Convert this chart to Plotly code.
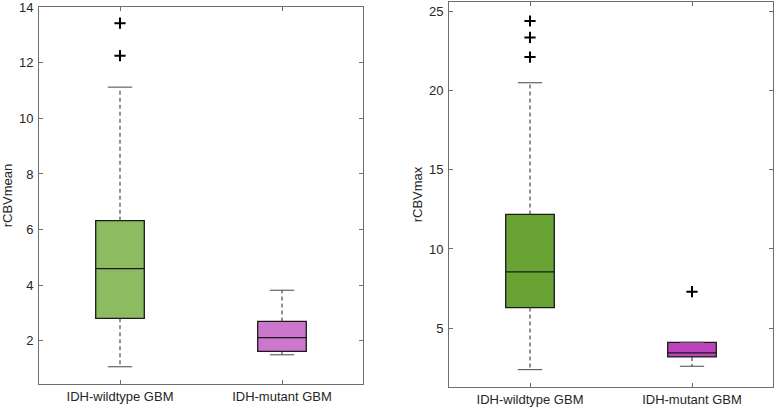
import plotly.graph_objects as go

groups = ["IDH-wildtype GBM", "IDH-mutant GBM"]
positions = [1, 2]

# rCBVmean panel
mean_q1 = [2.81, 1.62]
mean_med = [4.60, 2.12]
mean_q3 = [6.32, 2.70]
mean_lo = [1.07, 1.50]
mean_hi = [11.12, 3.82]
mean_out = [[13.42, 12.25], []]

# rCBVmax panel
max_q1 = [6.30, 3.18]
max_med = [8.55, 3.43]
max_q3 = [12.18, 4.10]
max_lo = [2.38, 2.59]
max_hi = [20.50, 4.10]
max_out = [[24.40, 23.36, 22.12], [7.30]]

mean_colors = ["#8DBB62", "#CC77CC"]
max_colors = ["#68A334", "#BB44BB"]

fig = go.Figure()

def add_panel(q1, med, q3, lo, hi, outs, colors, xa, ya):
    for i, p in enumerate(positions):
        fig.add_trace(go.Box(
            x=[p], q1=[q1[i]], median=[med[i]], q3=[q3[i]],
            lowerfence=[q1[i]], upperfence=[q3[i]],
            width=0.3, whiskerwidth=0, fillcolor=colors[i],
            line=dict(color="#1a1a1a", width=1.3),
            boxpoints=False, hoverinfo="skip",
            xaxis=xa, yaxis=ya, showlegend=False))
        # dashed whiskers
        for a, b in [(q3[i], hi[i]), (q1[i], lo[i])]:
            if abs(a - b) > 1e-9:
                fig.add_trace(go.Scatter(
                    x=[p, p], y=[a, b], mode="lines",
                    line=dict(color="#3a3a3a", width=1.1, dash="4px,3px"),
                    xaxis=xa, yaxis=ya, showlegend=False, hoverinfo="skip"))
        # caps
        for v in [hi[i], lo[i]]:
            fig.add_trace(go.Scatter(
                x=[p - 0.075, p + 0.075], y=[v, v], mode="lines",
                line=dict(color="#555555", width=1.1),
                xaxis=xa, yaxis=ya, showlegend=False, hoverinfo="skip"))
        if outs[i]:
            fig.add_trace(go.Scatter(
                x=[p] * len(outs[i]), y=outs[i], mode="markers",
                marker=dict(symbol="cross-thin", size=8,
                            line=dict(color="#000000", width=2)),
                xaxis=xa, yaxis=ya, showlegend=False, hoverinfo="skip"))

add_panel(mean_q1, mean_med, mean_q3, mean_lo, mean_hi, mean_out, mean_colors, "x", "y")
add_panel(max_q1, max_med, max_q3, max_lo, max_hi, max_out, max_colors, "x2", "y2")

font = dict(family="Liberation Sans, Arial, sans-serif", size=13, color="#262626")
axis_common = dict(showline=True, linecolor="#6e6e6e", linewidth=1, mirror="ticks",
                   ticks="inside", ticklen=4, tickcolor="#6e6e6e", automargin=False,
                   showgrid=False, zeroline=False, tickfont=font,
                   ticklabeloverflow="allow")

fig.update_layout(
    width=777, height=412,
    margin=dict(l=0, r=0, t=0, b=0),
    paper_bgcolor="white", plot_bgcolor="white",
    font=font,
    xaxis=dict(domain=[39/777, 363/777], range=[0.5, 2.5],
               tickvals=positions, ticktext=groups, ticklabelstandoff=0, **axis_common),
    yaxis=dict(domain=[1-384/412, 1-7/412], range=[0.45, 14.0],
               tickvals=[2, 4, 6, 8, 10, 12, 14], ticklabelstandoff=2,
               title=dict(text="rCBVmean", font=font, standoff=3), **axis_common),
    xaxis2=dict(domain=[449/777, 773/777], range=[0.5, 2.5],
                tickvals=positions, ticktext=groups, anchor="y2", ticklabelstandoff=0,
                **axis_common),
    yaxis2=dict(domain=[1-387/412, 1-2/412], range=[1.28, 25.6],
                tickvals=[5, 10, 15, 20, 25], anchor="x2", ticklabelstandoff=2,
                title=dict(text="rCBVmax", font=font, standoff=3), **axis_common),
)

fig.write_html("out.html", config={"displayModeBar": False},
               post_script="document.body.style.margin='0';document.body.style.overflow='hidden';")
